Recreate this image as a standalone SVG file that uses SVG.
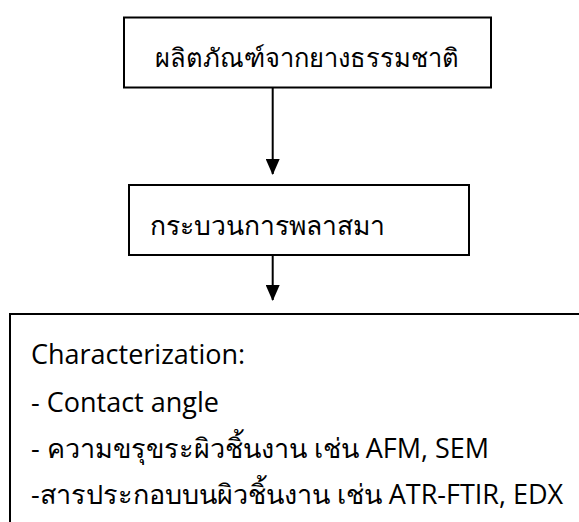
<svg xmlns="http://www.w3.org/2000/svg" width="579" height="522" viewBox="0 0 579 522">
<defs>
<marker id="arr" markerWidth="8" markerHeight="7" refX="7.5" refY="3.5" orient="auto" markerUnits="strokeWidth" viewBox="0 0 8 7">
<path d="M0,0 L8,3.5 L0,7 z" fill="#000"/>
</marker>
<style>
.box{fill:#fff;stroke:#000;stroke-width:2}
.t{font-family:"Open Sans","Noto Sans",sans-serif;font-size:27px;fill:#000}
.c{stroke:#000;stroke-width:2;fill:none}
</style>
</defs>
<rect width="579" height="522" fill="#fff"/>
<g id="connectors">
<line class="c" x1="272.7" y1="88" x2="272.7" y2="174" marker-end="url(#arr)"/>
<line class="c" x1="272.7" y1="256" x2="272.7" y2="300" marker-end="url(#arr)"/>
</g>
<g id="node1">
<rect class="box" x="124" y="17.5" width="367" height="70"/>
<text class="t" x="307" y="67" text-anchor="middle" style="font-size:25.5px">ผลิตภัณฑ์จากยางธรรมชาติ</text>
</g>
<g id="node2">
<rect class="box" x="129" y="185" width="340" height="70"/>
<text class="t" x="150" y="235" style="font-size:26.5px">กระบวนการพลาสมา</text>
</g>
<g id="node3">
<rect class="box" x="10" y="314" width="600" height="230"/>
<text class="t" x="31" y="364">Characterization:</text>
<text class="t" x="31" y="412">- Contact angle</text>
<text class="t" x="31" y="458">- ความขรุขระผิวชิ้นงาน เช่น AFM, SEM</text>
<text class="t" x="31" y="504">-สารประกอบบนผิวชิ้นงาน เช่น ATR-FTIR, EDX</text>
</g>
</svg>
